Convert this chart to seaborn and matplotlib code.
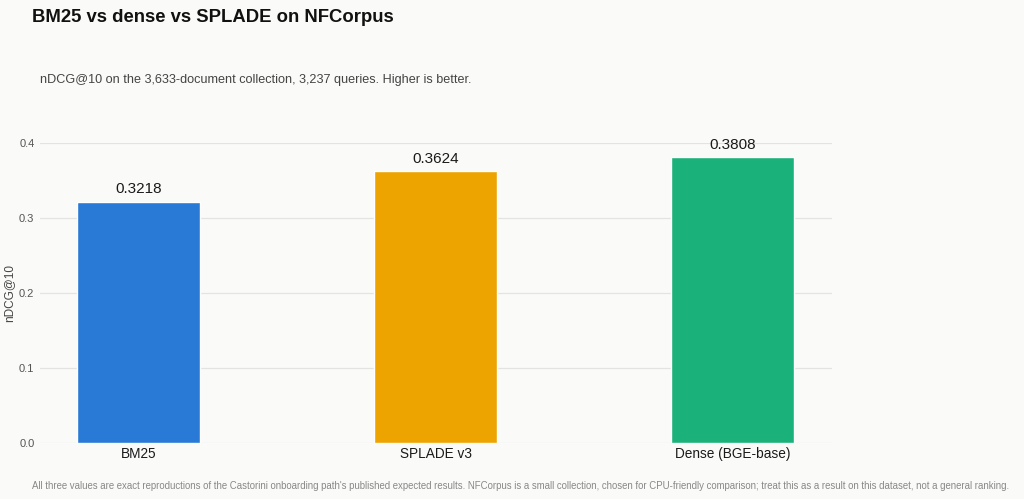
import matplotlib
matplotlib.use("Agg")
import matplotlib.pyplot as plt
import seaborn as sns
import pandas as pd

methods = ["BM25", "SPLADE v3", "Dense (BGE-base)"]
scores = [0.3218, 0.3624, 0.3808]
bar_colors = ["#2979D6", "#EDA300", "#1BB17B"]
y_ticks = [0.0, 0.1, 0.2, 0.3, 0.4]

bg = "#FAFAF8"
sns.set_theme(style="white")
plt.rcParams["font.family"] = ["Liberation Sans", "DejaVu Sans"]

df = pd.DataFrame({"method": methods, "score": scores})

fig = plt.figure(figsize=(10.24, 4.99), dpi=100, facecolor=bg)
ax = fig.add_axes([40 / 1024, 1 - 443 / 499, 792 / 1024, 300 / 499])
ax.set_facecolor(bg)

sns.barplot(data=df, x="method", y="score", hue="method", palette=bar_colors,
            width=0.414, legend=False, ax=ax, zorder=3, saturation=1)

for i, v in enumerate(scores):
    ax.text(i, v + 0.007, f"{v:.4f}", ha="center", va="bottom",
            fontsize=11, color="#1a1a1a", clip_on=False)

ax.set_xlim(-0.332, 2.335)
ax.set_ylim(0, 0.4)
ax.set_yticks(y_ticks)
ax.set_yticklabels([f"{t:.1f}" for t in y_ticks])
ax.grid(axis="y", color="#E3E3E1", linewidth=0.9, zorder=0)
ax.grid(axis="x", visible=False)
for s in ax.spines.values():
    s.set_visible(False)
ax.tick_params(axis="y", length=0, labelsize=8, labelcolor="#555555", pad=4)
ax.tick_params(axis="x", length=0, labelsize=9.8, labelcolor="#1a1a1a", pad=3)
ax.set_xlabel("")
ax.set_ylabel("nDCG@10", fontsize=8.5, color="#444444", labelpad=3)

fig.text(32 / 1024, 1 - 18 / 499, "BM25 vs dense vs SPLADE on NFCorpus",
         fontsize=13.3, fontweight="bold", color="#111111", va="center")
fig.text(40 / 1024, 1 - 80 / 499,
         "nDCG@10 on the 3,633-document collection, 3,237 queries. Higher is better.",
         fontsize=9.1, color="#444444", va="center")
fig.text(32 / 1024, 1 - 486 / 499,
         "All three values are exact reproductions of the Castorini onboarding path's published expected results. "
         "NFCorpus is a small collection, chosen for CPU-friendly comparison; treat this as a result on this dataset, not a general ranking.",
         fontsize=6.9, color="#888888", va="center")

fig.savefig("out.png", dpi=100, facecolor=bg)
